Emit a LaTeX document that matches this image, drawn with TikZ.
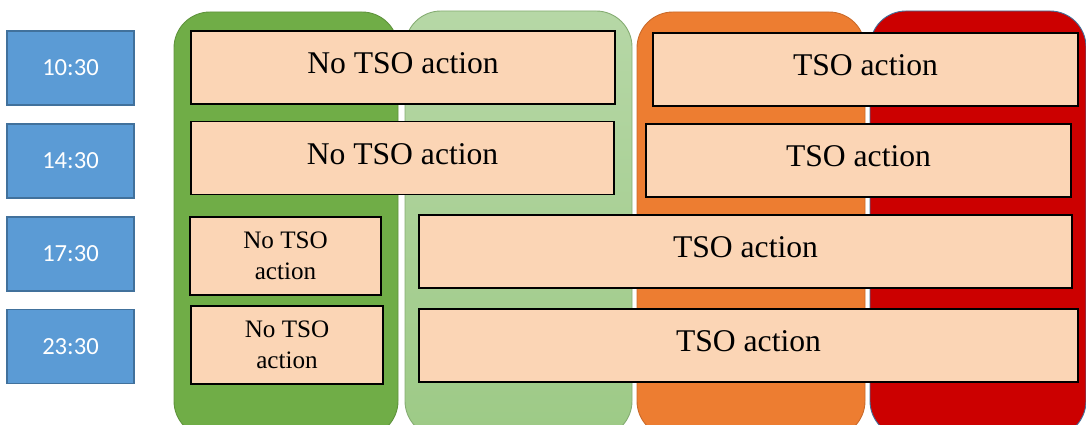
\documentclass[tikz,border=0pt]{standalone}
\usepackage{fontspec}
\setmainfont{Liberation Serif}
\newfontfamily\timefont{Carlito}
\usetikzlibrary{positioning}

\definecolor{timeblue}{HTML}{5B9BD5}
\definecolor{timeedge}{HTML}{41719C}
\definecolor{peach}{HTML}{FBD5B5}
\definecolor{dkgreen}{HTML}{70AD47}
\definecolor{ltgreentop}{HTML}{B6D7A6}
\definecolor{ltgreenbot}{HTML}{9DCA86}
\definecolor{orangecol}{HTML}{ED7D31}
\definecolor{redcol}{HTML}{CC0000}

\tikzset{
  timebox/.style={draw=timeedge,line width=0.6pt,fill=timeblue,text=white,
    minimum width=2.54cm,minimum height=1.48cm,inner sep=0pt,
    font=\timefont\fontsize{14}{16}\selectfont},
  tsobox/.style={draw=black,line width=1.1pt,fill=peach,inner sep=0pt,
    minimum height=1.46cm,text depth=5pt,font=\fontsize{18}{21}\selectfont},
  smallbox/.style={draw=black,line width=1.1pt,fill=peach,inner sep=0pt,
    minimum width=3.83cm,minimum height=1.56cm,align=center,
    font=\fontsize{14.3}{17.6}\selectfont},
  column/.style={rounded corners=0.72cm,line width=0.5pt}
}

\begin{document}
\begin{tikzpicture}[x=0.02cm,y=-0.02cm]
 \useasboundingbox (0,0) rectangle (1086,425);
 % 背景の列
 \draw[column,draw=dkgreen!85!black,fill=dkgreen] (174,12) rectangle (398,437);
 \draw[column,draw=ltgreenbot!85!black,top color=ltgreentop,bottom color=ltgreenbot] (405,11) rectangle (632,437);
 \draw[column,draw=orangecol!85!black,fill=orangecol] (637,12) rectangle (865,437);
 \draw[column,draw=timeedge,fill=redcol] (870,11) rectangle (1086,437);

 % 時刻
 \node[timebox] (t1030) at (70.5,68) {10:30};
 \node[timebox] (t1430) at (70.5,161) {14:30};
 \node[timebox] (t1730) at (70.5,254) {17:30};
 \node[timebox] (t2330) at (70.5,346.5) {23:30};

 % 10:30, 14:30
 \node[tsobox,minimum width=8.48cm] (noact1) at (403,67.5) {No TSO action};
 \node[tsobox,minimum width=8.5cm] (act1) at (865.5,69.5) {TSO action};
 \node[tsobox,minimum width=8.46cm] (noact2) at (402.5,158) {No TSO action};
 \node[tsobox,minimum width=8.5cm] (act2) at (858.5,160.5) {TSO action};

 % 17:30, 23:30
 \node[smallbox] (noact3) at (285.5,256) {No TSO\\action};
 \node[tsobox,minimum width=13.06cm] (act3) at (745.5,251.5) {TSO action};
 \node[smallbox] (noact4) at (287,345) {No TSO\\action};
 \node[tsobox,minimum width=13.18cm] (act4) at (748.5,345.5) {TSO action};
\end{tikzpicture}
\end{document}
